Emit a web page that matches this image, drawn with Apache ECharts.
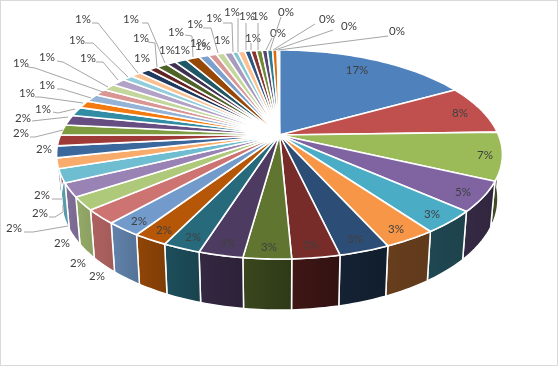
<!DOCTYPE html>
<html><head><meta charset="utf-8">
<style>html,body{margin:0;padding:0;background:#fff}#c{width:558px;height:366px}</style>
<script src="https://cdn.jsdelivr.net/npm/echarts@6/dist/echarts.min.js"></script>
</head><body><div id="c"></div>
<script>
const values = [16.9,7.6,7.4,4.6,3.5,3.2,3.1,2.9,2.9,2.7,2.3,2.1,2.2,2.2,2.0,2.1,2.1,1.6,1.8,1.7,1.6,1.6,
  1.4,1.2,1.2,1.1,1.1,1.2,0.9,0.9,0.9,0.8,1.0,0.8,1.0,1.2,0.85,0.7,0.7,0.7,0.5,0.6,0.5,0.5,0.5,0.45,0.45,0.4,0.1,0.1];
const pctLabels = ['17%','8%','7%','5%','3%','3%','3%','3%','3%','3%','2%','2%','2%','2%','2%','2%','2%','2%','2%','2%','2%','2%',
  '1%','1%','1%','1%','1%','1%','1%','1%','1%','1%','1%','1%','1%','1%','1%','1%','1%','1%','1%','1%','1%','1%','1%','0%','0%','0%','0%','0%'];
const colors = ['#4F81BD','#C0504D','#9BBB59','#8064A2','#4BACC6','#F79646',
  '#2C4D75','#772C2A','#5F7530','#4D3B62','#276A7C','#B65708',
  '#729ACA','#CD7371','#AFC97A','#9983B5','#6FBDD1','#F9AB6B',
  '#3A679C','#9E3B38','#7E9C40','#664E83','#328DA4','#F37A10',
  '#95B3D7','#D99694','#C3D69B','#B2A2C7','#92CDDC','#FAC090',
  '#1F3A5E','#632423','#4F6228','#403152','#205867','#984806',
  '#7BA0CD','#D99694','#C3D69B','#A99BBD','#84C5D6','#FAC090',
  '#2C5480','#8A3331','#6E8A36','#5A4572','#2E7C90','#D96C0E','#95B3D7','#D99694'];
// layout only: label centres and leader lines, in pixels
const labelAt = [[357,70],[460,113],[485,155],[463,192],[432,214],[396,229],[355,239],[311,245],[269,247],[228,243],
  [193,237],[164,230],[139,221],[97,276],[78,263],[62,243],[14,228],[40,213],[42,195],[44,149],[21,133],[23,118],
  [43,109],[27,93],[47,85],[21,63],[47,57],[88,58],[77,40],[83,19],[142,58],[141,38],[131,19],[167,50],[182,50],
  [176,32],[198,43],[203,46],[195,24],[214,18],[222,40],[232,12],[247,16],[253,38],[260,16],[278,33],[286,12],[327,19],[349,26],[397,31]];
const leaders = {
  16:[[24,232],[33,232],[68,226]], 17:[[49,217],[55,217],[63,212],[63,205]], 18:[[52,199],[62,199]],
  20:[[30,137],[35,137],[63,130]], 21:[[32,121],[68,117]], 22:[[53,112],[58,113],[75,109]],
  23:[[35,97],[40,97],[83,103]], 24:[[57,89],[62,89],[91,98]], 25:[[28,67],[35,68],[103,92]],
  26:[[57,61],[63,62],[108,87]], 27:[[96,62],[103,62],[118,80]], 28:[[85,43],[93,43],[128,77]],
  29:[[92,23],[98,23],[138,73]], 31:[[148,42],[155,43],[157,67]], 32:[[142,23],[148,23],[165,63]],
  35:[[185,35],[192,36],[193,57]], 38:[[203,28],[211,28],[218,53]], 39:[[223,23],[232,23],[233,52]],
  41:[[238,18],[238,52]], 42:[[246,23],[246,50]], 43:[[251,43],[251,50]], 44:[[258,23],[258,50]],
  45:[[272,38],[266,50]], 46:[[281,17],[270,50]], 47:[[315,24],[273,50]], 48:[[333,30],[275,50]], 49:[[388,36],[278,50]]
};

// projected disc geometry
const CX = 279.5, CY = 135, F = 219, G = 100.9, K = 0.1866;
function rim(t){
  const X = Math.sin(t), Y = Math.cos(t), w = 1 + K*Y;
  return [CX + F*X/w, CY - G*Y/w, Y];
}
function lower(t){
  const p = rim(t), depth = 42.5 + 8.5*Math.max(0,-p[2]);
  return [CX + (p[0]-CX)*0.98, p[1] + depth];
}
const total = values.reduce((a,b)=>a+b,0);
const bounds = [0];
values.forEach(v => bounds.push(bounds[bounds.length-1] + v/total*Math.PI*2));
function arcPts(a,b,fn){
  const n = Math.max(2, Math.ceil((b-a)/0.02)), out = [];
  for(let i=0;i<=n;i++) out.push(fn(a+(b-a)*i/n));
  return out;
}
function shade(hex,f){
  const n = parseInt(hex.slice(1),16);
  const c = [(n>>16)&255,(n>>8)&255,n&255].map(v=>Math.round(v*f));
  return 'rgb('+c.join(',')+')';
}
function wallFactor(t){
  const d = t*180/Math.PI;
  return Math.min(0.82, Math.max(0.4, 0.4 + (d-163)*0.0074));
}
const T0 = 95*Math.PI/180, T1 = 268*Math.PI/180;

function renderWall(params){
  const i = params.dataIndex;
  const a = Math.max(bounds[i],T0), b = Math.min(bounds[i+1],T1);
  if(b <= a) return {type:'group',children:[]};
  const top = arcPts(a,b,t=>rim(t).slice(0,2));
  const bot = arcPts(a,b,lower).reverse();
  return {type:'polygon',shape:{points:top.concat(bot)},style:{
    fill:new echarts.graphic.LinearGradient(0,0,1,0,[
      {offset:0,color:shade(colors[i],wallFactor(b)*1.04)},
      {offset:1,color:shade(colors[i],wallFactor(a)*0.96)}]),
    stroke:'#fff',lineWidth:1.5,lineJoin:'round'}};
}
function renderTop(params){
  const i = params.dataIndex;
  const pts = [[CX,CY]].concat(arcPts(bounds[i],bounds[i+1],t=>rim(t).slice(0,2)));
  return {type:'polygon',shape:{points:pts},style:{fill:colors[i],stroke:'#fff',lineWidth:1.6,lineJoin:'round'}};
}
function renderLabel(params){
  const i = params.dataIndex, kids = [];
  if(leaders[i]) kids.push({type:'polyline',shape:{points:leaders[i]},style:{fill:null,stroke:'#a6a6a6',lineWidth:1}});
  kids.push({type:'text',x:labelAt[i][0],y:labelAt[i][1],style:{text:pctLabels[i],fill:'#404040',
    font:'11.5px Lato, "Open Sans", sans-serif',align:'center',verticalAlign:'middle'}});
  return {type:'group',children:kids};
}
const base = {type:'custom',coordinateSystem:'none',data:values,silent:true,clip:false,animation:false};
const chart = echarts.init(document.getElementById('c'),null,{renderer:'canvas'});
chart.setOption({
  animation:false,
  backgroundColor:'#fff',
  graphic:[{type:'rect',shape:{x:0,y:0,width:558,height:366},z:100,silent:true,
    style:{fill:null,stroke:'#d9d9d9',lineWidth:2}}],
  series:[
    Object.assign({},base,{renderItem:renderWall,z:1}),
    Object.assign({},base,{renderItem:renderTop,z:2}),
    Object.assign({},base,{renderItem:renderLabel,z:3})
  ]
});
</script></body></html>
